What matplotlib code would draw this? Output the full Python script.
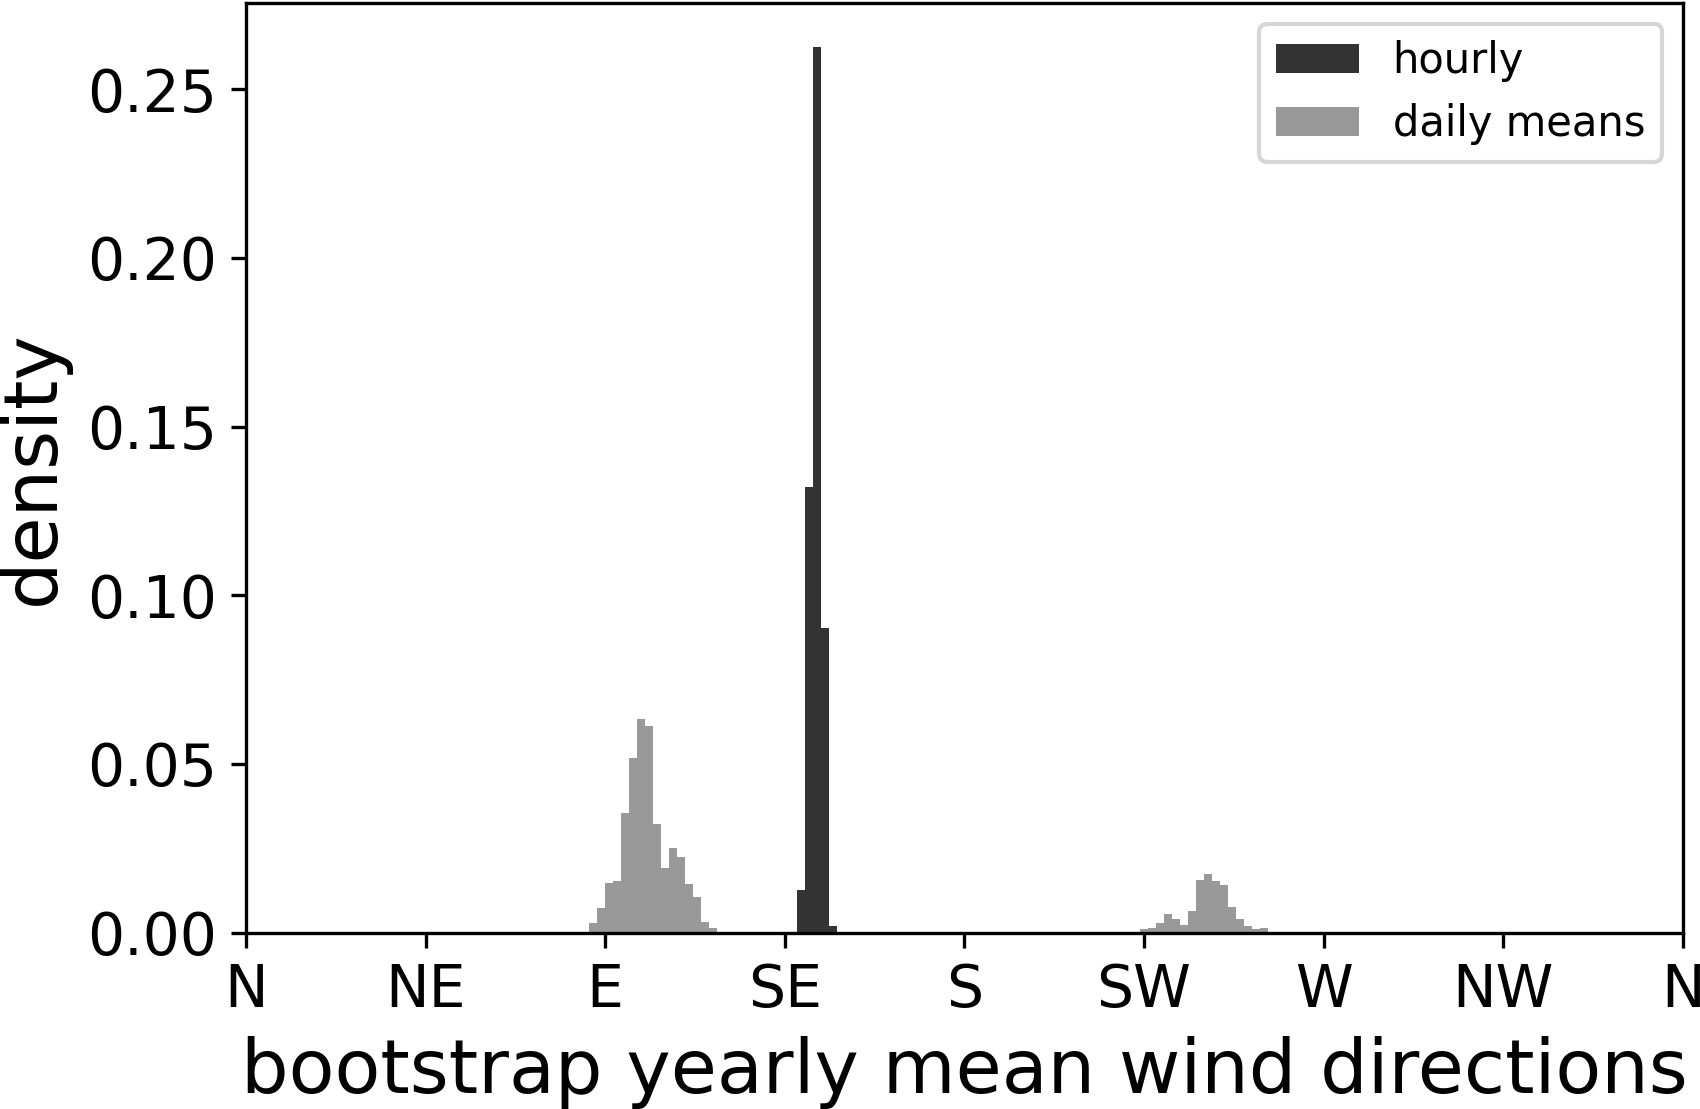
import matplotlib
matplotlib.use("Agg")
import matplotlib.pyplot as plt

# ---- data ----
bin_width = 2  # degrees

hourly_left = [138, 140, 142, 144, 146]
hourly_density = [0.0127, 0.1321, 0.2625, 0.0903, 0.0019]

daily_left = [84, 86, 88, 90, 92, 94, 96, 98, 100, 102, 104, 106, 108, 110,
              112, 114, 116,
              170, 178,
              220, 224, 226, 228, 230, 232, 234, 236, 238, 240, 242, 244, 246,
              248, 250, 252, 254, 256]
daily_density = [0.0002, 0.0029, 0.0072, 0.0146, 0.0152, 0.0356, 0.0519,
                 0.0634, 0.0613, 0.0323, 0.0191, 0.0252, 0.0224, 0.0143,
                 0.0105, 0.0032, 0.0013,
                 0.0002, 0.0002,
                 0.0003, 0.0011, 0.0014, 0.0030, 0.0055, 0.0040, 0.0023,
                 0.0064, 0.0156, 0.0174, 0.0153, 0.0141, 0.0076, 0.0040,
                 0.0020, 0.0011, 0.0014, 0.0003]

tick_degrees = [0, 45, 90, 135, 180, 225, 270, 315, 360]
tick_labels = ["N", "NE", "E", "SE", "S", "SW", "W", "NW", "N"]

# ---- figure ----
dpi = 300
fig = plt.figure(figsize=(1700 / dpi, 1109 / dpi), dpi=dpi)
ax = fig.add_axes([246 / 1700, 176.3 / 1109, (1682.7 - 246) / 1700, (932.7 - 2.7) / 1109])

ax.bar(hourly_left, hourly_density, width=bin_width, align="edge",
       color="#333333", linewidth=0, label="hourly")
ax.bar(daily_left, daily_density, width=bin_width, align="edge",
       color="#999999", linewidth=0, label="daily means")

ax.set_xlim(0, 360)
ax.set_xticks(tick_degrees)
ax.set_xticklabels(tick_labels)
ax.tick_params(labelsize=14)
ax.set_xlabel("bootstrap yearly mean wind directions", fontsize=18)
ax.set_ylabel("density", fontsize=18)
ax.legend(loc="upper right", fontsize=10)

fig.savefig("out.png", dpi=dpi)
